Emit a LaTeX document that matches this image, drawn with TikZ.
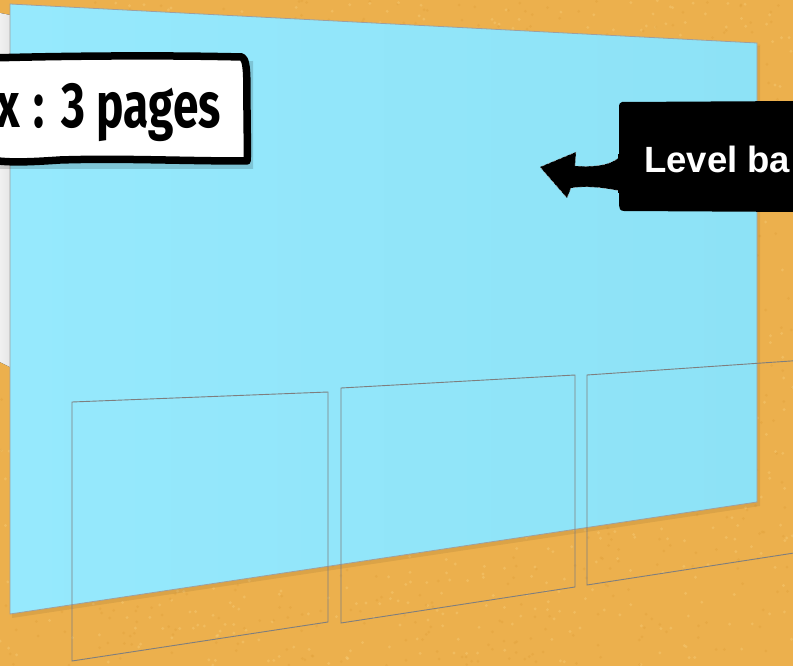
\documentclass[tikz,border=0pt]{standalone}
\usepackage{fontspec}
\newfontfamily\condfont{Fira Sans}[FakeStretch=0.72]
\newfontfamily\labfont{Liberation Sans}
\usetikzlibrary{arrows.meta}
\definecolor{sand}{HTML}{ECB04D}
\definecolor{sandlight}{HTML}{F4C66E}
\definecolor{sanddark}{HTML}{E2A23C}
\definecolor{skyL}{HTML}{96E9FD}
\definecolor{skyR}{HTML}{8DE2F6}
\definecolor{framegray}{HTML}{7E7E7E}
\tikzset{
  pageframe/.style={draw=framegray, line width=0.9pt},
  plane/.style={left color=skyL, right color=skyR, draw=gray!75, line width=0.8pt},
  roughborder/.style={draw=black, line width=7.5pt, line join=round},
}
\begin{document}
\begin{tikzpicture}[x=1pt,y=-1pt]
\useasboundingbox (0,0) rectangle (793,666);
\clip (0,0) rectangle (793,666);
% sandy background
\fill[sand] (0,0) rectangle (793,666);
\pgfmathsetseed{7}
\foreach \i in {1,...,2200}{
  \pgfmathsetmacro{\xx}{rnd*793}
  \pgfmathsetmacro{\yy}{rnd*666}
  \pgfmathsetmacro{\cc}{rnd}
  \ifdim\cc pt<0.5pt
    \fill[sandlight, opacity=0.55] (\xx,\yy) circle (1.6pt);
  \else
    \fill[sanddark, opacity=0.45] (\xx,\yy) circle (1.5pt);
  \fi
}
% grey strip on the left
\fill[left color=gray!12, right color=gray!20] (0,13) -- (10,15) -- (10,367) -- (0,362) -- cycle;
% blue level plane
\fill[black, opacity=0.07] (12,7) -- (760,46) -- (760,506) -- (12,618) -- cycle;
\path[plane] (10,4) -- (757,43) -- (757,502) -- (10,614) -- cycle;
% page frames
\draw[pageframe] (72,402) -- (328,392) -- (328,622) -- (72,661) -- cycle;
\draw[pageframe] (341,388) -- (575,375) -- (575,587) -- (341,623) -- cycle;
\draw[pageframe] (820,359) -- (587,375) -- (587,585) -- (820,549);
% white label
\fill[black, opacity=0.15] (-10,62) -- (253,61) -- (253,169) -- (-10,169) -- cycle;
\fill[white] (-10,57) -- (247,58) -- (247,160) -- (-10,161) -- cycle;
\draw[roughborder] (-10,58) .. controls (60,56) and (160,55) .. (242,57)
  .. controls (249,61) and (246,90) .. (247,110)
  .. controls (247,135) and (248,150) .. (247,161)
  .. controls (180,161) and (120,158) .. (60,160)
  .. controls (30,162) and (10,163) .. (-10,160);
\node[anchor=base east, inner sep=0pt, font=\condfont\bfseries\fontsize{64}{64}\selectfont]
  (pages) at (221,128) {x\kern2pt\ :\kern7pt\ 3 pages};
% black label with curved arrow
\fill[black] (622,102) -- (800,101) -- (800,212) -- (624,211)
  .. controls (620,211) and (619,208) .. (619,205) -- (619,108)
  .. controls (619,104) and (620,102) .. (622,102) -- cycle;
\node[anchor=base west, inner sep=0pt, text=white, font=\labfont\bfseries\fontsize{36.5}{37}\selectfont]
  (level) at (644,172) {Level ba};
\coordinate (tip) at (540,167);
\fill[black, draw=gray!60, line width=0.4pt, dashed]
  (621,156) .. controls (610,166) and (595,167) .. (575,166)
  -- (576,152) -- (tip) -- (567,198) -- (571,188)
  .. controls (590,185) and (610,189) .. (621,191);
\fill[black] (618,154) rectangle (624,193);
\end{tikzpicture}
\end{document}
